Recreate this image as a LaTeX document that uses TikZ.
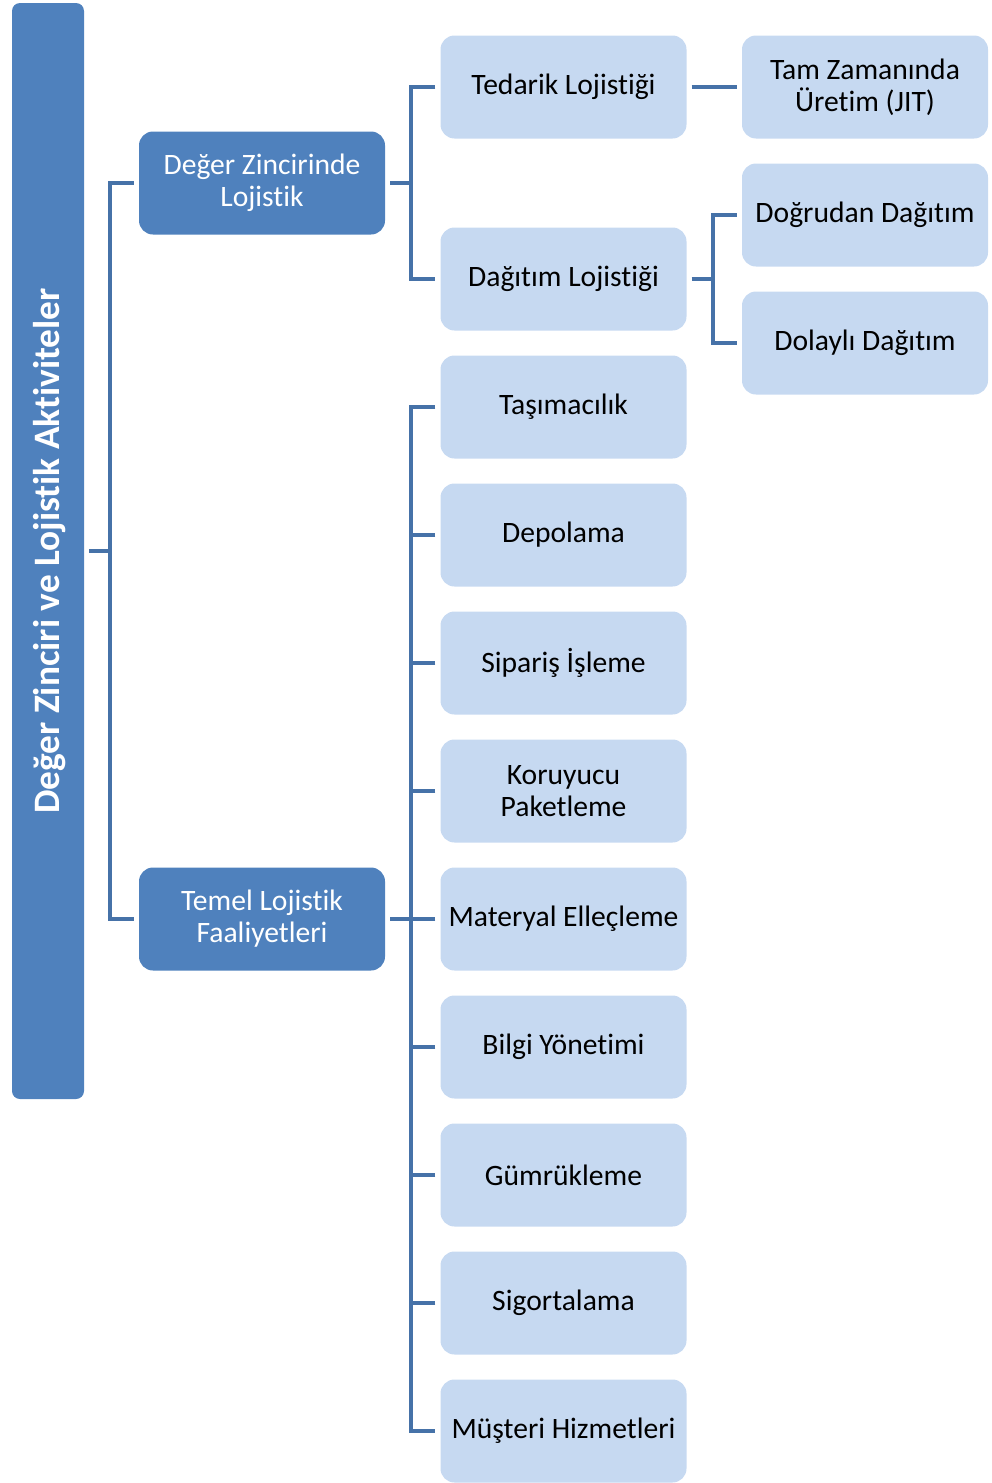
\documentclass[tikz,border=0pt]{standalone}
\usepackage{fontspec}
\setmainfont[Ligatures=NoCommon]{Carlito}
\definecolor{darkfill}{RGB}{79,129,189}
\definecolor{lightfill}{RGB}{198,217,241}
\definecolor{linkcol}{RGB}{70,114,168}
\begin{document}
\begin{tikzpicture}[x=1pt,y=-1pt,
  boxtext/.style={font=\fontsize{29.6}{32}\selectfont, align=center, inner sep=0pt},
  lvlone/.style={boxtext, fill=darkfill, text=white, rounded corners=14pt,
    minimum width=246pt, minimum height=103pt},
  lvltwo/.style={boxtext, fill=lightfill, text=black, rounded corners=14pt,
    minimum width=246pt, minimum height=103pt},
  rootbox/.style={fill=darkfill, rounded corners=8pt, minimum width=72pt,
    minimum height=1096pt, inner sep=0pt},
  link/.style={draw=linkcol, line width=4pt}]
\useasboundingbox (0,0) rectangle (992,1483);

% root column
\node[rootbox] (root) at (48,551) {};
\node[rotate=90, text=white, inner sep=0pt,
  font=\fontsize{37.3}{40}\selectfont\bfseries] (title) at (50,551)
  {Değer Zinciri ve Lojistik Aktiviteler};

% first level
\node[lvlone] (dz) at (262,183) {Değer Zincirinde\\Lojistik};
\node[lvlone] (tl) at (262,919) {Temel Lojistik\\Faaliyetleri};

% second level
\node[lvltwo] (ted) at (563.5,87)  {Tedarik Lojistiği};
\node[lvltwo] (dag) at (563.5,279) {Dağıtım Lojistiği};
\node[lvltwo] (tas) at (563.5,407) {Taşımacılık};
\node[lvltwo] (dep) at (563.5,535) {Depolama};
\node[lvltwo] (sip) at (563.5,663) {Sipariş İşleme};
\node[lvltwo] (kor) at (563.5,791) {Koruyucu\\Paketleme};
\node[lvltwo] (mat) at (563.5,919) {Materyal Elleçleme};
\node[lvltwo] (bil) at (563.5,1047) {Bilgi Yönetimi};
\node[lvltwo] (gum) at (563.5,1175) {Gümrükleme};
\node[lvltwo] (sig) at (563.5,1303) {Sigortalama};
\node[lvltwo] (mus) at (563.5,1431) {Müşteri Hizmetleri};

% third level
\node[lvltwo] (jit) at (865,87)  {Tam Zamanında\\Üretim (JIT)};
\node[lvltwo] (dog) at (865,215) {Doğrudan Dağıtım};
\node[lvltwo] (dol) at (865,343) {Dolaylı Dağıtım};

% bus coordinates
\coordinate (b1) at (110,551);
\coordinate (b2) at (411,183);
\coordinate (b3) at (411,919);
\coordinate (b4) at (713,279);

% root -> first level
\draw[link] ([xshift=5pt]root.east) -- (b1);
\draw[link] ([xshift=-5pt]dz.west) -| (b1) |- ([xshift=-5pt]tl.west);

% value chain -> second level
\draw[link] ([xshift=5pt]dz.east) -- (b2);
\draw[link] ([xshift=-5pt]ted.west) -| (b2) |- ([xshift=-5pt]dag.west);

% basic activities -> second level
\draw[link] ([xshift=5pt]tl.east) -- (b3);
\draw[link] ([xshift=-5pt]tas.west) -| (b3) |- ([xshift=-5pt]mus.west);
\foreach \n in {dep,sip,kor,mat,bil,gum,sig}
  \draw[link] ([xshift=-5pt]\n.west) -- (b3 |- \n.west);

% second -> third level
\draw[link] ([xshift=5pt]ted.east) -- ([xshift=-5pt]jit.west);
\draw[link] ([xshift=5pt]dag.east) -- (b4);
\draw[link] ([xshift=-5pt]dog.west) -| (b4) |- ([xshift=-5pt]dol.west);
\end{tikzpicture}
\end{document}
